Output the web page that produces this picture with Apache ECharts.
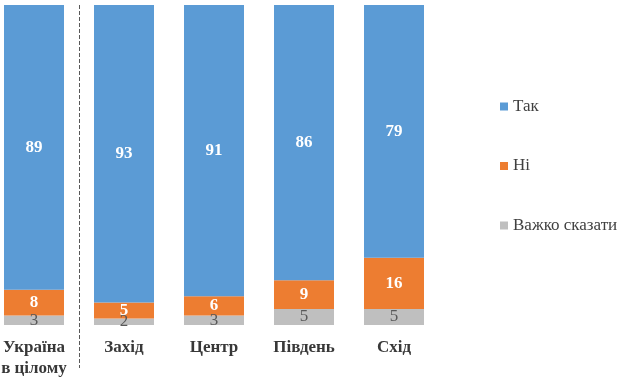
<!DOCTYPE html>
<html>
<head>
<meta charset="utf-8">
<script src="https://cdn.jsdelivr.net/npm/echarts@6/dist/echarts.min.js"></script>
<style>
  html, body { margin: 0; padding: 0; background: #fff; }
  #chart { width: 620px; height: 377px; }
</style>
</head>
<body>
<div id="chart"></div>
<script>
const regions = ["Україна\nв цілому", "Захід", "Центр", "Південь", "Схід"];
const yes = [89, 93, 91, 86, 79];
const no = [8, 5, 6, 9, 16];
const hard = [3, 2, 3, 5, 5];

const serif = "Liberation Serif";
const blue = "#5B9BD5", orange = "#ED7D31", grey = "#BFBFBF";

const chart = echarts.init(document.getElementById('chart'), null, {renderer: 'canvas'});

const option = {
    animation: false,
    textStyle: {fontFamily: serif},
    grid: {left: -11, right: 181, top: 5, bottom: 52, outerBoundsMode: "none", containLabel: false},
    legend: {
        data: ["Так", "Ні", "Важко сказати"],
        orient: "vertical",
        left: 495,
        top: 91,
        itemWidth: 8,
        itemHeight: 8,
        itemGap: 38.5,
        icon: "rect",
        textStyle: {fontFamily: serif, fontSize: 17, color: "#404040", lineHeight: 21}
    },
    xAxis: {
        type: "category",
        data: regions,
        axisLine: {show: false},
        axisTick: {show: false},
        axisLabel: {
            margin: 12,
            fontFamily: serif,
            fontSize: 17,
            fontWeight: "bold",
            color: "#383838",
            lineHeight: 21
        }
    },
    yAxis: {
        type: "value",
        min: 0,
        max: 100,
        show: false,
        splitLine: {show: false}
    },
    series: [
        {
            name: "Важко сказати", type: "bar", stack: "all", data: hard, barWidth: 60,
            itemStyle: {color: grey},
            label: {show: true, position: "inside", fontFamily: serif, fontSize: 17,
                color: "#595959"}
        },
        {
            name: "Ні", type: "bar", stack: "all", data: no, barWidth: 60,
            itemStyle: {color: orange},
            label: {show: true, position: "inside", fontFamily: serif, fontSize: 17,
                fontWeight: "bold", color: "#fff"}
        },
        {
            name: "Так", type: "bar", stack: "all", data: yes, barWidth: 60,
            itemStyle: {color: blue},
            label: {show: true, position: "inside", fontFamily: serif, fontSize: 17,
                fontWeight: "bold", color: "#fff"}
        }
    ]
};
chart.setOption(option);

// dashed separator between the first category and the rest
const x0 = chart.convertToPixel({xAxisIndex: 0}, 0);
const x1 = chart.convertToPixel({xAxisIndex: 0}, 1);
const sepX = Math.round((x0 + x1) / 2) + 0.5;
chart.setOption({
    graphic: [{
        type: "line",
        shape: {x1: sepX, y1: 5, x2: sepX, y2: 368},
        style: {stroke: "#595959", lineWidth: 1, lineDash: [4, 2]}
    }]
});
</script>
</body>
</html>
